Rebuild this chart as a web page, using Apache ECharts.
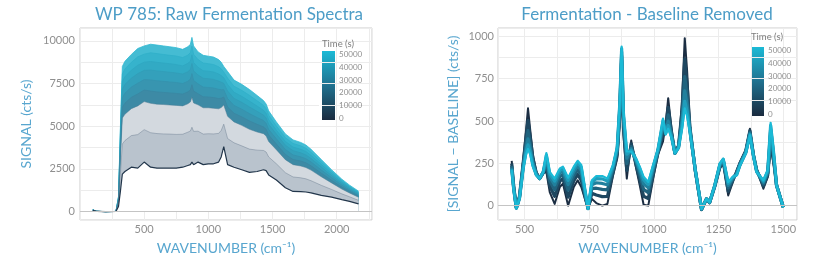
<!DOCTYPE html>
<html>
<head>
<meta charset="utf-8">
<script src="https://cdn.jsdelivr.net/npm/echarts@6/dist/echarts.min.js"></script>
<style>
  html, body { margin: 0; padding: 0; background: #fff; }
  #chart { width: 830px; height: 265px; }
</style>
</head>
<body>
<div id="chart"></div>
<script>
// ---------- data: left panel, raw spectra (cts/s) ----------
const wavenumber_raw = [100, 130, 200, 280, 300, 315, 330, 350, 400, 450, 500, 550, 600, 650, 700, 750, 800, 840, 860, 872,
  885, 920, 960, 1000, 1040, 1080, 1100, 1120, 1150, 1200, 1260, 1320, 1380, 1430, 1450, 1470, 1530, 1600, 1660, 1720,
  1760, 1800, 1880, 1960, 2040, 2100, 2170]

const raw_t0 = [80, 10, 0, 10, 300, 1200, 2200, 2350, 2600, 2550, 2900, 2600, 2550, 2550, 2550, 2550, 2600, 2700, 2750, 2900,
  2750, 2900, 2750, 2800, 2800, 2900, 3200, 3800, 2750, 2600, 2450, 2300, 2350, 2450, 2400, 2150, 1850, 1400, 1180, 1170,
  1150, 1100, 950, 850, 700, 600, 450]
const raw_t10000 = [85, 10, 0, 10, 470, 2260, 3960, 4160, 4450, 4510, 4800, 4620, 4570, 4550, 4540, 4520, 4530, 4650, 4720, 4940,
  4700, 4710, 4540, 4560, 4550, 4580, 4750, 5120, 4280, 4030, 3850, 3660, 3600, 3580, 3490, 3200, 2800, 2280, 2030, 1980,
  1920, 1810, 1540, 1300, 1040, 870, 660]
const raw_t20000 = [90, 15, 0, 10, 610, 3180, 5480, 5700, 6030, 6190, 6440, 6340, 6290, 6270, 6240, 6220, 6190, 6310, 6420, 6700,
  6360, 6250, 6080, 6080, 6050, 6020, 6090, 6240, 5580, 5250, 5050, 4820, 4660, 4560, 4430, 4100, 3620, 3040, 2750, 2670,
  2580, 2430, 2040, 1680, 1320, 1090, 840]
const raw_t25000 = [95, 15, 0, 10, 670, 3560, 6110, 6350, 6690, 6890, 7120, 7060, 7010, 6980, 6950, 6920, 6880, 7010, 7120, 7430,
  7060, 6900, 6720, 6710, 6680, 6620, 6640, 6710, 6130, 5760, 5550, 5310, 5110, 4960, 4820, 4480, 3960, 3350, 3050, 2960,
  2860, 2680, 2250, 1840, 1440, 1190, 920]
const raw_t30000 = [95, 15, 0, 10, 730, 3900, 6670, 6930, 7290, 7520, 7730, 7710, 7660, 7630, 7590, 7560, 7500, 7630, 7760, 8080,
  7680, 7480, 7290, 7270, 7240, 7160, 7140, 7140, 6620, 6220, 6000, 5740, 5510, 5330, 5170, 4810, 4260, 3640, 3320, 3210,
  3100, 2910, 2440, 1990, 1550, 1270, 980]
const raw_t35000 = [100, 15, 0, 10, 770, 4200, 7180, 7450, 7810, 8080, 8270, 8290, 8240, 8200, 8160, 8120, 8050, 8190, 8320, 8670,
  8240, 8000, 7810, 7780, 7740, 7640, 7580, 7510, 7060, 6630, 6400, 6130, 5870, 5650, 5480, 5110, 4540, 3890, 3570, 3440,
  3320, 3110, 2610, 2110, 1650, 1350, 1040]
const raw_t40000 = [100, 20, 0, 10, 820, 4470, 7620, 7900, 8280, 8570, 8750, 8790, 8740, 8700, 8660, 8610, 8530, 8680, 8810, 9180,
  8730, 8450, 8250, 8220, 8180, 8060, 7970, 7840, 7440, 6990, 6750, 6470, 6180, 5930, 5750, 5380, 4770, 4110, 3780, 3650,
  3520, 3290, 2760, 2230, 1730, 1420, 1100]
const raw_t45000 = [105, 20, 0, 10, 860, 4730, 8060, 8350, 8740, 9060, 9220, 9300, 9250, 9200, 9150, 9110, 9020, 9160, 9310, 9690,
  9210, 8900, 8700, 8660, 8610, 8480, 8360, 8170, 7820, 7340, 7100, 6810, 6490, 6220, 6030, 5640, 5010, 4330, 3990, 3850,
  3710, 3470, 2900, 2340, 1820, 1480, 1150]
const raw_t50000 = [110, 20, 0, 10, 900, 5000, 8500, 8800, 9200, 9550, 9700, 9800, 9750, 9700, 9650, 9600, 9500, 9650, 9800, 10200,
  9700, 9350, 9150, 9100, 9050, 8900, 8750, 8500, 8200, 7700, 7450, 7150, 6800, 6500, 6300, 5900, 5250, 4550, 4200, 4050,
  3900, 3650, 3050, 2450, 1900, 1550, 1200]

// ---------- data: right panel, baseline removed (cts/s) ----------
const wavenumber_base = [450, 458, 468, 480, 495, 505, 513, 522, 532, 545, 558, 572, 584, 597, 616, 636, 648, 668, 690, 705,
  719, 735, 745, 760, 777, 800, 820, 842, 858, 868, 875, 882, 895, 912, 930, 945, 960, 978, 997, 1015,
  1035, 1045, 1055, 1068, 1081, 1095, 1108, 1119, 1128, 1139, 1160, 1184, 1203, 1215, 1235, 1255, 1268, 1287, 1305, 1320,
  1332, 1355, 1371, 1385, 1397, 1423, 1440, 1451, 1462, 1474, 1488, 1500]

const base_t0 = [265, 120, -10, 60, 280, 440, 575, 440, 300, 200, 160, 190, 200, 80, 10, 110, 130, 0, 110, 150,
  110, 30, -15, 40, 15, 0, 10, 180, 280, 500, 820, 420, 160, 385, 230, 120, 5, 0, 160, 300,
  380, 480, 635, 450, 310, 360, 600, 990, 800, 475, 200, -25, 40, 15, 110, 220, 250, 60, 140, 210,
  255, 330, 455, 300, 218, 100, 170, 340, 250, 120, 50, -10]
const base_t10000 = [249, 111, -12, 54, 262, 398, 503, 398, 279, 194, 160, 193, 233, 116, 55, 143, 160, 50, 146, 185,
  149, 45, -16, 73, 63, 53, 55, 198, 301, 536, 856, 462, 208, 366, 245, 153, 55, 42, 184, 309,
  421, 462, 581, 435, 310, 354, 555, 866, 719, 463, 203, -24, 40, 17, 113, 229, 258, 84, 149, 201,
  249, 324, 443, 297, 212, 115, 182, 385, 274, 120, 50, -10]
const base_t20000 = [235, 104, -13, 49, 247, 363, 443, 363, 262, 189, 160, 196, 261, 146, 93, 171, 185, 91, 176, 213,
  182, 58, -17, 101, 103, 96, 93, 213, 319, 566, 886, 497, 248, 349, 258, 181, 96, 77, 204, 317,
  454, 447, 536, 423, 310, 349, 518, 762, 652, 453, 206, -22, 40, 18, 116, 237, 265, 104, 157, 194,
  244, 319, 433, 295, 207, 128, 192, 423, 294, 120, 50, -10]
const base_t30000 = [224, 98, -14, 45, 235, 335, 395, 335, 248, 185, 160, 198, 283, 170, 123, 193, 205, 124, 200, 236,
  208, 68, -17, 123, 135, 131, 123, 225, 333, 590, 910, 525, 280, 336, 268, 203, 129, 105, 220, 323,
  481, 435, 500, 413, 310, 345, 488, 679, 598, 445, 208, -21, 40, 19, 118, 243, 270, 120, 163, 188,
  240, 315, 425, 293, 203, 138, 200, 453, 310, 120, 50, -10]
const base_t40000 = [216, 93, -15, 42, 226, 314, 359, 314, 237, 182, 160, 199, 299, 188, 145, 209, 220, 149, 218, 254,
  227, 75, -18, 139, 159, 158, 145, 234, 343, 608, 928, 546, 304, 327, 275, 219, 154, 126, 232, 327,
  502, 426, 473, 405, 310, 342, 465, 617, 557, 439, 209, -20, 40, 20, 119, 247, 274, 132, 167, 183,
  237, 312, 419, 291, 200, 145, 206, 475, 322, 120, 50, -10]
const base_t50000 = [210, 90, -15, 40, 220, 300, 335, 300, 230, 180, 160, 200, 310, 200, 160, 220, 230, 165, 230, 265,
  240, 80, -18, 150, 175, 175, 160, 240, 350, 620, 940, 560, 320, 320, 280, 230, 170, 140, 240, 330,
  515, 420, 455, 400, 310, 340, 450, 575, 530, 435, 210, -20, 40, 20, 120, 250, 277, 140, 170, 180,
  235, 310, 415, 290, 198, 150, 210, 490, 330, 120, 50, -10]

// ---------- tick labels ----------
const raw_x_ticks = [500, 1000, 1500, 2000]
const raw_y_ticks = [0, 2500, 5000, 7500, 10000]
const base_x_ticks = [500, 750, 1000, 1250, 1500]
const base_y_ticks = [0, 250, 500, 750, 1000]
const time_ticks = [0, 10000, 20000, 30000, 40000, 50000]

const raw_runs = [
    {time: 50000, values: raw_t50000},
    {time: 45000, values: raw_t45000},
    {time: 40000, values: raw_t40000},
    {time: 35000, values: raw_t35000},
    {time: 30000, values: raw_t30000},
    {time: 25000, values: raw_t25000},
    {time: 20000, values: raw_t20000},
    {time: 10000, values: raw_t10000},
    {time: 0, values: raw_t0},
]
const base_runs = [
    {time: 0, values: base_t0},
    {time: 10000, values: base_t10000},
    {time: 20000, values: base_t20000},
    {time: 30000, values: base_t30000},
    {time: 40000, values: base_t40000},
    {time: 50000, values: base_t50000},
]

// ---------- styles ----------
const FONT = 'Lato, "Open Sans", "DejaVu Sans", sans-serif'
const TITLE_COLOR = '#4d9dc7'
const NAME_COLOR = '#58a6cf'
const LABEL_COLOR = '#8f8f8f'
const GRID_COLOR = '#ececec'

// the bands between two runs are painted with the colour of the upper run
const raw_line_color = {
    0: '#22364b', 10000: 'rgba(85,105,125,0.45)', 20000: 'rgba(70,120,145,0.6)', 25000: '#3a87a2',
    30000: '#3592ad', 35000: '#319db8', 40000: '#2fa7c1', 45000: '#30b0c9', 50000: '#2fb9d2'
}
const raw_area_color = {
    0: '#ffffff', 10000: '#b9c3cd', 20000: '#d3d9df', 25000: '#3d8aa5',
    30000: '#3895b0', 35000: '#34a0bb', 40000: '#32aac4', 45000: '#36b3cc', 50000: '#45bcd3'
}
const base_line_color = {
    0: '#1b2d42', 10000: '#1e4760', 20000: '#20637e', 30000: '#21809d', 40000: '#1f9dbb', 50000: '#1bbad6'
}
const base_line_width = {0: 2, 10000: 3.2, 20000: 3.2, 30000: 3.2, 40000: 3.2, 50000: 2.2}
const colorbar_fill = {
    type: 'linear', x: 0, y: 0, x2: 0, y2: 1,
    colorStops: [
        {offset: 0, color: '#1bbad6'},
        {offset: 0.5, color: '#20718f'},
        {offset: 1, color: '#1a2b3f'}
    ]
}

function onlyTicks(ticks) {
    return (v) => ticks.indexOf(v) >= 0 ? String(v) : ''
}

function mainAxis(extra) {
    return Object.assign({
        type: 'value',
        axisLine: {show: false},
        axisTick: {show: false, interval: 0},
        splitLine: {show: true, interval: 0, lineStyle: {color: GRID_COLOR, width: 1}},
        nameLocation: 'middle',
        nameTextStyle: {color: NAME_COLOR, fontSize: 14, fontFamily: FONT},
    }, extra)
}

function tickLabels(ticks, margin) {
    return {interval: 0, margin: margin, color: LABEL_COLOR, fontSize: 11, fontFamily: FONT, formatter: onlyTicks(ticks)}
}

function colorbarAxis(gridIndex) {
    return {
        type: 'value', gridIndex: gridIndex, position: 'right',
        min: -1300, max: 52600, minInterval: 10000, maxInterval: 10000,
        axisLine: {show: false},
        axisTick: {show: true, inside: true, length: 3, interval: 0, lineStyle: {color: '#ffffff', width: 1}},
        splitLine: {show: false},
        axisLabel: {interval: 0, margin: 4, color: LABEL_COLOR, fontSize: 8, fontFamily: FONT, formatter: onlyTicks(time_ticks)}
    }
}

const zeroLine = {
    silent: true, symbol: 'none', label: {show: false},
    lineStyle: {color: '#c4c4c4', width: 1.2, type: 'solid'},
    data: [{yAxis: 0}]
}

const series = []
raw_runs.forEach((run) => {
    series.push({
        type: 'line', xAxisIndex: 0, yAxisIndex: 0,
        data: wavenumber_raw.map((w, i) => [w, run.values[i]]),
        showSymbol: false, symbol: 'none', silent: true,
        lineStyle: {color: raw_line_color[run.time], width: run.time === 0 ? 1.2 : 0.8},
        areaStyle: {color: raw_area_color[run.time], opacity: 1},
        markLine: run.time === 0 ? zeroLine : undefined
    })
})
base_runs.forEach((run) => {
    series.push({
        type: 'line', xAxisIndex: 1, yAxisIndex: 1,
        data: wavenumber_base.map((w, i) => [w, run.values[i]]),
        showSymbol: false, symbol: 'none', silent: true,
        lineStyle: {color: base_line_color[run.time], width: base_line_width[run.time], join: 'round'},
        markLine: run.time === 0 ? zeroLine : undefined
    })
})

const chart = window.echarts.init(document.getElementById('chart'))
chart.setOption({
    animation: false,
    backgroundColor: '#ffffff',
    textStyle: {fontFamily: FONT},
    title: [
        {text: 'WP 785: Raw Fermentation Spectra', left: 229, top: 6, padding: 0, textAlign: 'center',
            textStyle: {color: TITLE_COLOR, fontSize: 17, fontWeight: 'normal', fontFamily: FONT}},
        {text: 'Fermentation - Baseline Removed', left: 647, top: 6, padding: 0, textAlign: 'center',
            textStyle: {color: TITLE_COLOR, fontSize: 17, fontWeight: 'normal', fontFamily: FONT}},
        {text: 'Time (s)', left: 322, top: 39, padding: 0,
            textStyle: {color: '#7d7d7d', fontSize: 9.5, fontWeight: 'normal', fontFamily: FONT}},
        {text: 'Time (s)', left: 751, top: 32, padding: 0,
            textStyle: {color: '#7d7d7d', fontSize: 9.5, fontWeight: 'normal', fontFamily: FONT}},
    ],
    grid: [
        {left: 80, top: 28, width: 292, height: 192, show: true, borderColor: '#cccccc', borderWidth: 1, backgroundColor: 'transparent'},
        {left: 498, top: 28, width: 299, height: 192, show: true, borderColor: '#cccccc', borderWidth: 1, backgroundColor: 'transparent'},
        {left: 322, top: 51, width: 13, height: 69, show: true, borderWidth: 0, backgroundColor: colorbar_fill},
        {left: 751, top: 47, width: 13, height: 69, show: true, borderWidth: 0, backgroundColor: colorbar_fill},
    ],
    xAxis: [
        mainAxis({gridIndex: 0, min: 0, max: 2275, interval: 250, name: 'WAVENUMBER (cm\u207B\u00B9)', nameGap: 21,
            axisLabel: tickLabels(raw_x_ticks, 4)}),
        mainAxis({gridIndex: 1, min: 397, max: 1553, minInterval: 125, maxInterval: 125, name: 'WAVENUMBER (cm\u207B\u00B9)', nameGap: 21,
            axisLabel: tickLabels(base_x_ticks, 4)}),
        {type: 'value', gridIndex: 2, show: false, min: 0, max: 1},
        {type: 'value', gridIndex: 3, show: false, min: 0, max: 1},
    ],
    yAxis: [
        mainAxis({gridIndex: 0, min: -490, max: 10750, minInterval: 1250, maxInterval: 1250, name: 'SIGNAL (cts/s)', nameGap: 47,
            axisLabel: tickLabels(raw_y_ticks, 5)}),
        mainAxis({gridIndex: 1, min: -85, max: 1050, minInterval: 125, maxInterval: 125, name: '[SIGNAL \u2212 BASELINE] (cts/s)', nameGap: 38,
            axisLabel: tickLabels(base_y_ticks, 4)}),
        colorbarAxis(2),
        colorbarAxis(3),
    ],
    series: series
})
</script>
</body>
</html>
